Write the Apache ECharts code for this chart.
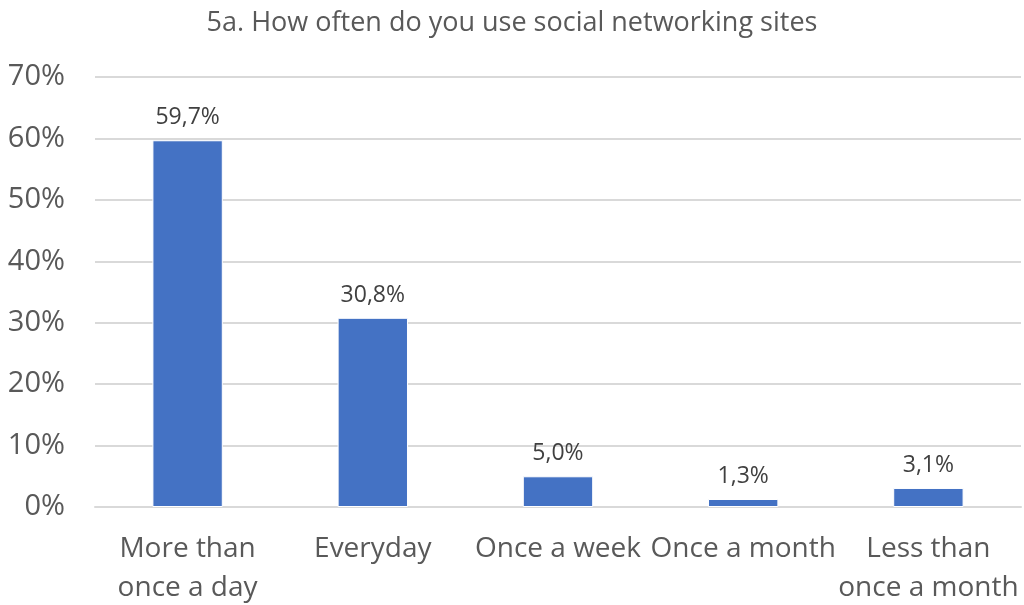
<!DOCTYPE html>
<html>
<head>
<meta charset="utf-8">
<script src="https://cdn.jsdelivr.net/npm/echarts@6/dist/echarts.min.js"></script>
<style>
  html, body { margin: 0; padding: 0; background: #fff; }
  #chart { width: 1024px; height: 605px; }
</style>
</head>
<body>
<div id="chart"></div>
<script>
// Survey question 5a: frequency of social networking site use (share of respondents, %)
const categories = ['More than\nonce a day', 'Everyday', 'Once a week', 'Once a month', 'Less than\nonce a month'];
const shares = [59.7, 30.8, 5.0, 1.3, 3.1];
const yTicks = [0, 10, 20, 30, 40, 50, 60, 70];

const FONT = '"Open Sans", "Noto Sans", sans-serif';
const TEXT = '#595959';

const chart = echarts.init(document.getElementById('chart'), null, { renderer: 'canvas' });

chart.setOption({
  animation: false,
  backgroundColor: '#ffffff',
  title: {
    text: '5a. How often do you use social networking sites',
    left: 'center',
    top: 5,
    textStyle: { fontFamily: FONT, fontSize: 27, fontWeight: 'normal', color: TEXT }
  },
  grid: {
    left: 95, right: 3, top: 77, bottom: 98,
    containLabel: false,
    outerBoundsMode: 'none'
  },
  xAxis: {
    type: 'category',
    data: categories,
    axisLine: { show: true, lineStyle: { color: '#d9d9d9', width: 2 } },
    axisTick: { show: false },
    axisLabel: {
      interval: 0,
      margin: 23,
      fontFamily: FONT,
      fontSize: 28,
      lineHeight: 39,
      color: TEXT
    }
  },
  yAxis: {
    type: 'value',
    min: yTicks[0],
    max: yTicks[yTicks.length - 1],
    interval: 10,
    axisLine: { show: false },
    axisTick: { show: false },
    splitLine: { lineStyle: { color: '#d9d9d9', width: 2 } },
    axisLabel: {
      margin: 30,
      fontFamily: FONT,
      fontSize: 29,
      color: TEXT,
      formatter: v => v + '%'
    }
  },
  series: [{
    type: 'bar',
    data: shares,
    barWidth: '38%',
    itemStyle: { color: '#4472c4', borderColor: '#ffffff', borderWidth: 1 },
    label: {
      show: true,
      position: 'top',
      distance: 11,
      fontFamily: FONT,
      fontSize: 23,
      color: '#404040',
      formatter: p => p.value.toFixed(1).replace('.', ',') + '%'
    }
  }]
});
</script>
</body>
</html>
